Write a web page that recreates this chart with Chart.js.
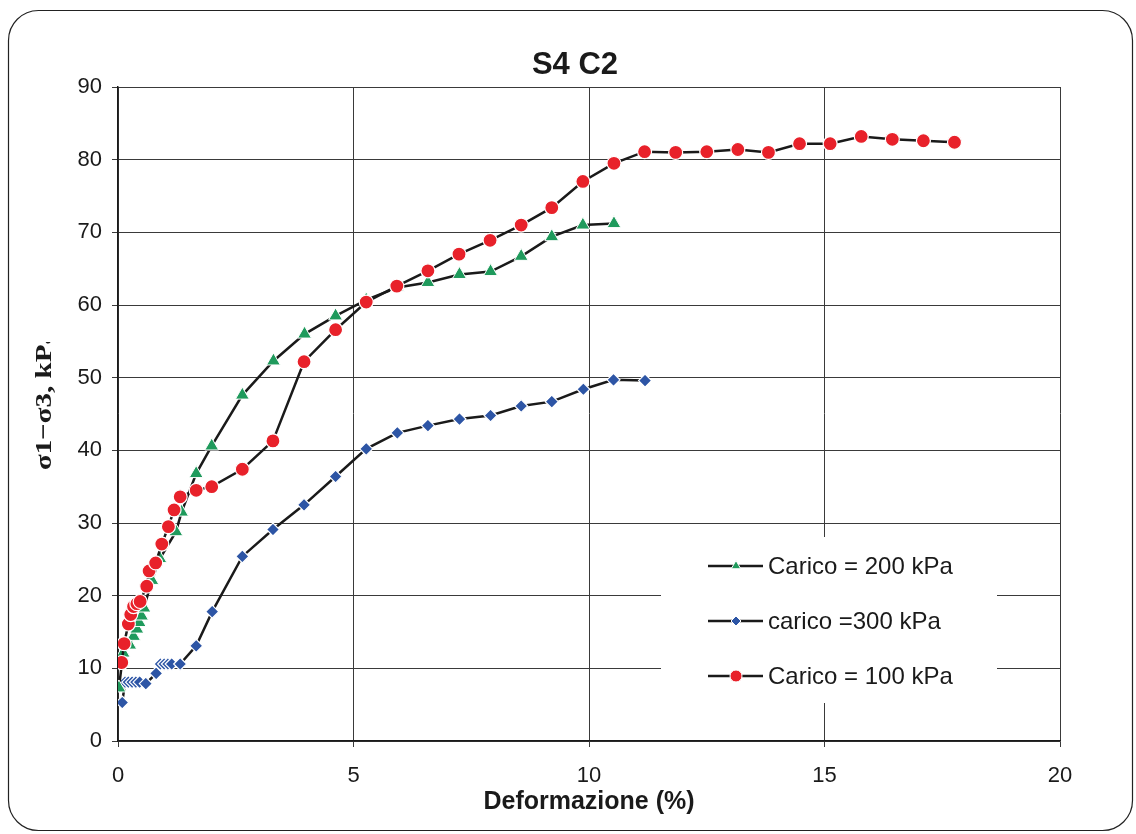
<!DOCTYPE html>
<html>
<head>
<meta charset="utf-8">
<script src="https://cdn.jsdelivr.net/npm/chart.js@4.4.1/dist/chart.umd.min.js"></script>
<style>
html, body { margin: 0; padding: 0; background: #fff; }
#wrap { position: relative; width: 1136px; height: 834px; }
</style>
</head>
<body>
<div id="wrap"><canvas id="chart"></canvas></div>
<script>
// S4 C2 - deviator stress vs axial strain

const strain100 = [0.08, 0.13, 0.22, 0.27, 0.33, 0.40, 0.47, 0.61, 0.66, 0.80, 0.93, 1.07, 1.19, 1.32, 1.66, 1.99, 2.64, 3.29, 3.95, 4.62, 5.27, 5.92, 6.58, 7.24, 7.90, 8.56, 9.21, 9.87, 10.53, 11.18, 11.84, 12.50, 13.16, 13.81, 14.47, 15.12, 15.78, 16.44, 17.10, 17.76];
const stress100 = [10.8, 13.4, 16.1, 17.4, 18.5, 18.9, 19.2, 21.3, 23.4, 24.5, 27.1, 29.5, 31.8, 33.6, 34.5, 35.0, 37.4, 41.3, 52.2, 56.6, 60.4, 62.6, 64.7, 67.0, 68.9, 71.0, 73.4, 77.0, 79.5, 81.1, 81.0, 81.1, 81.4, 81.0, 82.2, 82.2, 83.2, 82.8, 82.6, 82.4];

const strain200 = [0.02, 0.11, 0.25, 0.33, 0.40, 0.45, 0.50, 0.55, 0.72, 0.89, 1.23, 1.35, 1.66, 1.99, 2.64, 3.30, 3.96, 4.62, 5.27, 5.93, 6.58, 7.25, 7.91, 8.56, 9.21, 9.87, 10.53];
const stress200 = [7.3, 12.1, 13.2, 14.4, 15.4, 16.3, 17.2, 18.3, 22.1, 25.1, 28.8, 31.5, 36.8, 40.6, 47.6, 52.3, 56.0, 58.5, 60.7, 62.4, 63.1, 64.2, 64.6, 66.7, 69.4, 71.0, 71.2];

const strain300 = [0.09, 0.15, 0.22, 0.30, 0.38, 0.46, 0.59, 0.81, 0.90, 0.98, 1.06, 1.14, 1.32, 1.66, 2.00, 2.64, 3.29, 3.95, 4.62, 5.27, 5.93, 6.58, 7.25, 7.91, 8.56, 9.21, 9.88, 10.52, 11.19];
const stress300 = [5.3, 8.1, 8.1, 8.1, 8.1, 8.1, 7.9, 9.3, 10.6, 10.6, 10.6, 10.6, 10.6, 13.1, 17.8, 25.4, 29.1, 32.5, 36.4, 40.2, 42.4, 43.4, 44.3, 44.8, 46.1, 46.7, 48.4, 49.7, 49.6];

const labels = ['Carico = 200 kPa', 'carico =300 kPa', 'Carico = 100 kPa'];
const titleText = 'S4 C2';
const xTitle = 'Deformazione (%)';
const yTitle = 'σ1−σ3, kPa';

function pts(xs, ys) {
	return xs.map((x, i) => ({ x: x, y: ys[i] }));
}

const FONT = '"Liberation Sans", Arial, sans-serif';

const decor = {
	id: 'decor',
	beforeDraw(chart) {
		const c = chart.ctx;
		c.save();
		c.fillStyle = '#fff';
		c.fillRect(0, 0, chart.width, chart.height);
		c.beginPath();
		c.roundRect(8.5, 10.5, 1124, 820, 30);
		c.strokeStyle = '#222';
		c.lineWidth = 1.2;
		c.stroke();
		c.restore();
	},
	afterDraw(chart) {
		const c = chart.ctx;
		c.save();
		c.fillStyle = '#1a1a1a';
		c.font = 'bold 31px ' + FONT;
		c.textAlign = 'center';
		c.textBaseline = 'middle';
		c.fillText(titleText, 575, 65);

		// legend box
		c.fillStyle = '#fff';
		c.fillRect(661, 537, 336, 166);
		const rows = [566, 621, 676];
		chart.data.datasets.forEach((ds) => {
			const y = rows[ds.legendRow];
			c.strokeStyle = '#1a1a1a';
			c.lineWidth = 2.5;
			c.beginPath();
			c.moveTo(708, y);
			c.lineTo(763, y);
			c.stroke();
			c.fillStyle = ds.backgroundColor;
			c.strokeStyle = '#fff';
			c.lineWidth = 1;
			Chart.helpers.drawPoint(c, { pointStyle: ds.pointStyle, radius: ds.legendRadius, rotation: 0, borderWidth: 1 }, 736, y);
			c.fillStyle = '#1a1a1a';
			c.font = '24px ' + FONT;
			c.textAlign = 'left';
			c.textBaseline = 'middle';
			c.fillText(ds.label, 768, y + 1);
		});
		c.restore();

		// y title, cut off at the top like the original
		c.save();
		c.beginPath();
		c.rect(0, 342, 110, 200);
		c.clip();
		c.translate(45, 470);
		c.rotate(-Math.PI / 2);
		c.scale(1, 0.82);
		c.fillStyle = '#1a1a1a';
		c.font = 'bold 29px "Liberation Serif", "Times New Roman", serif';
		c.textAlign = 'left';
		c.textBaseline = 'middle';
		c.fillText(yTitle, 0, 0);
		c.restore();
	}
};

new Chart(document.getElementById('chart'), {
	type: 'line',
	data: {
		datasets: [{
			label: labels[2],
			data: pts(strain100, stress100),
			legendRow: 2,
			legendRadius: 6,
			borderColor: '#1a1a1a',
			backgroundColor: '#e8212a',
			pointStyle: 'circle',
			pointRadius: 7,
			pointBorderColor: '#fff',
			pointBorderWidth: 1.2,
			order: 0
		}, {
			label: labels[0],
			data: pts(strain200, stress200),
			legendRow: 0,
			legendRadius: 5.5,
			borderColor: '#1a1a1a',
			backgroundColor: '#1f9a5c',
			pointStyle: 'triangle',
			pointRadius: 8,
			pointBorderColor: '#fff',
			pointBorderWidth: 1,
			order: 1
		}, {
			label: labels[1],
			data: pts(strain300, stress300),
			legendRadius: 5,
			legendRow: 1,
			borderColor: '#1a1a1a',
			backgroundColor: '#2d55a5',
			pointStyle: 'rectRot',
			pointRadius: 6.5,
			pointBorderColor: '#fff',
			pointBorderWidth: 1.2,
			order: 2
		}]
	},
	options: {
		responsive: true,
		maintainAspectRatio: false,
		animation: false,
		devicePixelRatio: 1,
		layout: { padding: { left: 0, top: 87, right: 76, bottom: 0 } },
		elements: {
			line: { borderWidth: 2.5, tension: 0, fill: false },
			point: { hoverRadius: 7 }
		},
		plugins: {
			legend: { display: false },
			title: { display: false },
			tooltip: { enabled: false }
		},
		scales: {
			x: {
				type: 'linear',
				min: 0,
				max: 20,
				afterFit(s) { s.height = 93; },
				ticks: { stepSize: 5, color: '#1a1a1a', font: { family: FONT, size: 22 }, padding: 16 },
				grid: { color: '#3a3a3a', lineWidth: 1, tickLength: 6 },
				border: { color: '#1a1a1a', width: 1.5 },
				title: { display: true, text: xTitle, color: '#1a1a1a', font: { family: FONT, size: 25, weight: 'bold' }, padding: { top: 0, bottom: 17 } }
			},
			y: {
				type: 'linear',
				min: 0,
				max: 90,
				afterFit(s) { s.width = 118; },
				ticks: { stepSize: 10, color: '#1a1a1a', font: { family: FONT, size: 22 }, padding: 10 },
				grid: { color: '#3a3a3a', lineWidth: 1, tickLength: 6 },
				border: { color: '#1a1a1a', width: 1.5 }
			}
		}
	},
	plugins: [decor]
});
</script>
</body>
</html>
